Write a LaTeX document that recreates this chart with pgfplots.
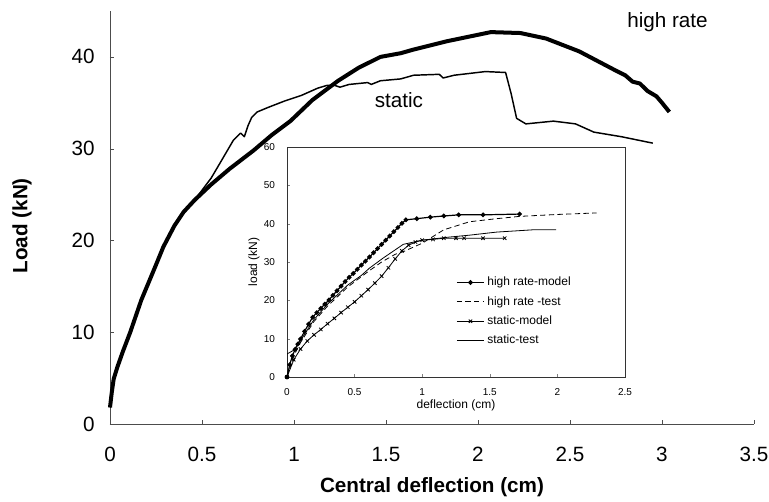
\documentclass[border=0pt]{standalone}
\usepackage{fontspec}
\setmainfont{Liberation Sans}
\usepackage{pgfplots}
\pgfplotsset{compat=1.18}
\begin{document}
\begin{tikzpicture}
\useasboundingbox (-82.5pt,-58.5pt) rectangle (494.25pt,318pt);
\begin{axis}[
  at={(0pt,0pt)}, anchor=south west,
  scale only axis, width=483pt, height=309.75pt,
  xmin=0, xmax=3.5, ymin=0, ymax=45,
  axis x line*=bottom, axis y line*=left,
  axis line style={black!70, line width=0.6pt},
  xtick={0,0.5,1,1.5,2,2.5,3,3.5}, ytick={0,10,20,30,40},
  tick align=inside, major tick length=3pt,
  tick style={black!70},
  /pgf/number format/assume math mode=true,
  tick label style={font=\fontsize{15.5}{18}\selectfont},
  xticklabel style={yshift=-14pt},
  yticklabel style={xshift=-8pt},
  xlabel={Central deflection (cm)},
  ylabel={Load (kN)},
  label style={font=\fontsize{15.5}{18}\selectfont\bfseries},
  xlabel style={at={(axis description cs:0.5,0)}, anchor=center, yshift=-47pt},
  ylabel style={at={(axis description cs:0,0.48)}, anchor=center, yshift=66pt},
  clip=false,
]
% high rate (thick)
\addplot[black, line width=3pt, line join=round] coordinates {
(0,1.8)(0.01,3.5)(0.02,4.9)(0.04,6.2)(0.07,7.9)(0.11,10)(0.17,13.5)(0.245,17.1)(0.29,19.3)
(0.35,21.6)(0.40,23.1)(0.46,24.4)(0.55,26.1)(0.65,27.8)(0.78,29.8)(0.88,31.5)(0.98,33.0)
(1.10,35.3)(1.24,37.4)(1.35,38.8)(1.47,40.0)(1.58,40.4)(1.65,40.8)(1.83,41.7)(2.07,42.7)
(2.23,42.6)(2.37,42.0)(2.55,40.6)(2.74,38.6)(2.80,38.0)(2.84,37.3)(2.88,37.1)(2.92,36.3)(2.97,35.7)(3.00,35.0)(3.04,34.0)
};
% static (thin)
\addplot[black, line width=1.1pt, line join=round] coordinates {
(0,1.8)(0.01,3.5)(0.02,4.9)(0.04,6.2)(0.07,7.9)(0.11,10)(0.17,13.5)(0.245,17.1)(0.29,19.3)
(0.35,21.6)(0.40,23.1)(0.46,24.4)(0.55,26.8)(0.60,28.5)(0.67,30.9)(0.71,31.7)(0.73,31.3)
(0.75,32.5)(0.77,33.4)(0.80,34.0)(0.86,34.5)(0.95,35.2)(1.04,35.8)(1.13,36.6)(1.18,36.9)
(1.22,36.9)(1.25,36.7)(1.30,37.0)(1.40,37.2)(1.42,37.0)(1.47,37.4)(1.58,37.6)(1.65,38.0)
(1.79,38.1)(1.81,37.7)(1.87,38.0)(2.04,38.4)(2.15,38.3)(2.18,36.0)(2.21,33.3)(2.26,32.7)
(2.41,33.0)(2.53,32.7)(2.63,31.8)(2.78,31.3)(2.95,30.6)
};
\node[font=\fontsize{15.5}{18}\selectfont] at (axis cs:1.57,35.3) {static};
\node[font=\fontsize{15.5}{18}\selectfont] at (axis cs:3.03,43.8) {high rate};
\end{axis}

\begin{axis}[
  at={(132.75pt,35.25pt)}, anchor=south west,
  scale only axis, width=253.5pt, height=172.5pt,
  xmin=0, xmax=2.5, ymin=0, ymax=60,
  axis background/.style={fill=white},
  xtick={0,0.5,1,1.5,2,2.5}, ytick={0,10,20,30,40,50,60},
  xtick pos=left, ytick pos=left, tick align=inside, major tick length=2.5pt,
  axis line style={black!80, line width=0.6pt},
  /pgf/number format/assume math mode=true,
  tick label style={font=\fontsize{7.5}{9}\selectfont},
  xticklabel style={yshift=-5pt},
  yticklabel style={xshift=-5.5pt},
  xlabel={deflection (cm)}, ylabel={load (kN)},
  label style={font=\fontsize{9}{11}\selectfont},
  xlabel style={at={(axis description cs:0.5,0)}, anchor=center, yshift=-21pt},
  ylabel style={at={(axis description cs:0,0.5)}, anchor=center, yshift=24.75pt},
  legend style={at={(axis cs:1.22,27.5)}, anchor=north west, draw=none, fill=none,
    font=\fontsize{9}{11}\selectfont, row sep=2.5pt},
  legend cell align=left,
  legend image code/.code={\draw[mark repeat=2,mark phase=2,#1] plot coordinates {(0cm,0cm) (0.36cm,0cm) (0.72cm,0cm)};},
]
\addplot[black, line width=0.9pt, mark=*, mark size=1.3pt] coordinates {
(0,0)(0.02,3.2)(0.04,5.5)(0.06,7.2)(0.08,8.6)(0.10,9.9)(0.13,11.9)(0.16,13.8)(0.19,15.6)
(0.22,16.8)(0.25,17.9)(0.28,19.0)(0.31,20.1)(0.34,21.3)(0.37,22.5)(0.40,23.7)(0.43,24.9)
(0.46,26.0)(0.49,27.0)(0.52,28.1)(0.55,29.2)(0.58,30.2)(0.61,31.3)(0.64,32.4)(0.67,33.5)
(0.70,34.6)(0.73,35.7)(0.76,36.8)(0.79,37.9)(0.82,39.0)(0.85,40.1)(0.88,41.0)(0.96,41.3)
(1.06,41.7)(1.16,42.0)(1.27,42.3)(1.45,42.3)(1.72,42.5)
};
\addlegendentry{high rate-model}
\addplot[black, line width=0.6pt, dash pattern=on 4pt off 2.5pt] coordinates {
(0,0)(0.05,5.5)(0.1,9.0)(0.2,14.5)(0.3,18.5)(0.45,23.5)(0.6,27.5)(0.7,30.0)(0.8,32.0)
(0.86,32.7)(1.0,34.9)(1.16,38.4)(1.35,40.5)(1.55,41.3)(1.72,41.9)(2.0,42.4)(2.29,42.8)
};
\addlegendentry{high rate -test}
\addplot[black, line width=0.6pt, mark=x, mark size=1.8pt] coordinates {
(0,0)(0.05,4.5)(0.1,7.3)(0.15,9.4)(0.2,11.0)(0.25,12.4)(0.3,13.9)(0.35,15.3)(0.4,16.8)
(0.45,18.2)(0.5,19.6)(0.55,21.2)(0.6,22.8)(0.65,24.5)(0.7,26.3)(0.75,28.5)(0.8,30.8)
(0.85,32.9)(0.9,34.4)(0.95,35.2)(1.0,35.7)(1.08,35.9)(1.16,36.2)(1.25,36.2)(1.31,36.2)
(1.45,36.2)(1.61,36.2)
};
\addlegendentry{static-model}
\addplot[black, line width=0.6pt] coordinates {
(0,0)(0,6)(0.05,7.0)(0.1,9.5)(0.2,15.0)(0.3,19.0)(0.45,24.0)(0.55,26.5)(0.61,28.4)(0.71,31.0)
(0.86,34.6)(1.0,35.7)(1.2,36.5)(1.35,37.0)(1.55,37.8)(1.82,38.4)(1.99,38.4)
};
\addlegendentry{static-test}
\end{axis}
\end{tikzpicture}
\end{document}
